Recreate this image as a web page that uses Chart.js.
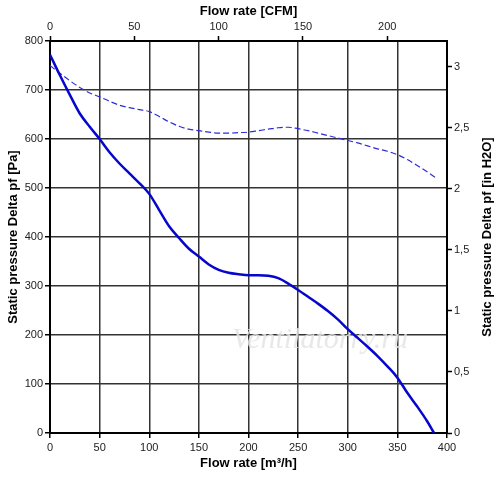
<!DOCTYPE html>
<html>
<head>
<meta charset="utf-8">
<script src="https://cdn.jsdelivr.net/npm/chart.js@4/dist/chart.umd.min.js"></script>
<style>
  html, body { margin: 0; padding: 0; background: #fff; }
  #wrap { width: 500px; height: 478px; }
</style>
</head>
<body>
<div id="wrap"><canvas id="fanChart" width="500" height="478"></canvas></div>
<script>
// flow rate in m3/h and static pressure in Pa
const flowSolid = [0, 10, 20, 30, 40, 50, 60, 70, 80, 90, 100, 110, 120, 130, 140, 150, 160, 170, 180, 190, 200, 210, 220, 230, 240, 250, 260, 270, 280, 290, 300, 310, 320, 330, 340, 350, 360, 370, 380, 387];
const pressureSolid = [772, 730, 690, 652, 625, 600, 573, 550, 530, 510, 488, 455, 422, 398, 376, 360, 344, 333, 327, 324, 322, 322, 321, 316, 305, 292, 278, 264, 249, 232, 212, 194, 176, 157, 136, 113, 82, 54, 24, 0];

const flowDashed = [0, 10, 20, 30, 40, 50, 60, 70, 80, 90, 100, 110, 120, 130, 140, 150, 160, 170, 180, 190, 200, 210, 220, 230, 240, 250, 260, 270, 280, 290, 300, 310, 320, 330, 340, 350, 360, 370, 380, 388];
const pressureDashed = [750, 734, 719, 705, 694, 686, 677, 669, 664, 660, 656, 646, 635, 626, 620, 617, 614, 612, 612, 613, 614, 617, 620, 623, 624, 621, 617, 612, 607, 602, 597, 592, 586, 580, 575, 568, 558, 546, 533, 522];

const PA_PER_INH2O = 249.089;
const M3H_PER_CFM = 1.699;

const tickFont = { family: 'Liberation Sans, Arial, sans-serif', size: 11 };
const titleFont = { family: 'Liberation Sans, Arial, sans-serif', size: 13, weight: 'bold' };

function toPoints(xs, ys) {
    return xs.map((x, i) => ({ x, y: ys[i] }));
}

const extraText = {
    id: 'extraText',
    beforeDatasetsDraw(chart) {
        const ctx = chart.ctx;
        ctx.save();
        ctx.font = 'italic 30px "Liberation Serif", serif';
        ctx.fillStyle = 'rgba(228,228,228,0.85)';
        ctx.textAlign = 'center';
        ctx.textBaseline = 'middle';
        ctx.fillText('Ventilatorry.ru', 320, 340);
        ctx.restore();
    },
    afterDraw(chart) {
        const ctx = chart.ctx;
        ctx.save();
        ctx.font = 'bold 13px "Liberation Sans", Arial, sans-serif';
        ctx.fillStyle = '#000';
        ctx.textAlign = 'center';
        ctx.textBaseline = 'middle';
        ctx.translate(487, 237);
        ctx.rotate(-Math.PI / 2);
        ctx.fillText('Static pressure Delta pf [in H2O]', 0, 0);
        ctx.restore();
    }
};

new Chart(document.getElementById('fanChart'), {
    type: 'line',
    data: {
        datasets: [
            {
                data: toPoints(flowSolid, pressureSolid),
                borderColor: '#0606cc',
                borderWidth: 2.5,
                pointRadius: 0,
                tension: 0.4,
                cubicInterpolationMode: 'monotone',
                xAxisID: 'x',
                yAxisID: 'y',
            },
            {
                data: toPoints(flowDashed, pressureDashed),
                borderColor: '#2d2dd6',
                borderWidth: 1.2,
                borderDash: [6, 3],
                pointRadius: 0,
                tension: 0.4,
                cubicInterpolationMode: 'monotone',
                xAxisID: 'x',
                yAxisID: 'y',
            },
        ],
    },
    options: {
        responsive: false,
        animation: false,
        layout: { padding: 0 },
        plugins: {
            legend: { display: false },
            tooltip: { enabled: false },
        },
        scales: {
            x: {
                type: 'linear',
                position: 'bottom',
                min: 0,
                max: 400,
                ticks: { stepSize: 50, font: tickFont, color: '#222', padding: 3 },
                grid: { color: '#333', lineWidth: 1.5, tickLength: 5, tickColor: '#000', tickWidth: 1.5 },
                border: { color: '#000', width: 2 },
                title: { display: true, text: 'Flow rate [m³/h]', font: titleFont, color: '#000', padding: { top: 0, bottom: 7 } },
                afterFit(scale) { scale.height = 45; },
            },
            x2: {
                type: 'linear',
                position: 'top',
                min: 0,
                max: 400 / M3H_PER_CFM,
                ticks: { stepSize: 50, includeBounds: false, font: tickFont, color: '#222', padding: 2 },
                grid: { drawOnChartArea: false, tickLength: 5, tickColor: '#000', tickWidth: 1.5 },
                border: { color: '#000', width: 2 },
                title: { display: true, text: 'Flow rate [CFM]', font: titleFont, color: '#000', padding: { top: 4, bottom: 0 } },
                afterFit(scale) { scale.height = 41; },
            },
            y: {
                type: 'linear',
                position: 'left',
                min: 0,
                max: 800,
                ticks: { stepSize: 100, font: tickFont, color: '#222', padding: 2 },
                grid: { color: '#333', lineWidth: 1.5, tickLength: 5, tickColor: '#000', tickWidth: 1.5 },
                border: { color: '#000', width: 2 },
                title: { display: true, text: 'Static pressure Delta pf [Pa]', font: titleFont, color: '#000', padding: { top: 6, bottom: 0 } },
                afterFit(scale) { scale.width = 50; },
            },
            y2: {
                type: 'linear',
                position: 'right',
                min: 0,
                max: 800 / PA_PER_INH2O,
                ticks: {
                    stepSize: 0.5,
                    includeBounds: false,
                    font: tickFont,
                    color: '#222',
                    padding: 2,
                    callback: (v) => String(v).replace('.', ','),
                },
                grid: { drawOnChartArea: false, tickLength: 5, tickColor: '#000', tickWidth: 1.5 },
                border: { color: '#000', width: 2 },
                afterFit(scale) { scale.width = 53; },
            },
        },
    },
    plugins: [extraText],
});
</script>
</body>
</html>
